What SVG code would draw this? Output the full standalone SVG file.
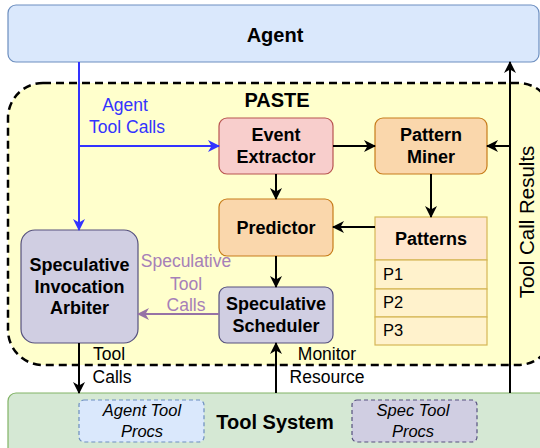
<svg xmlns="http://www.w3.org/2000/svg" width="540" height="448" viewBox="0 0 540 448">
<style>
text{font-family:"Liberation Sans",Arial,Helvetica,sans-serif;}
.t{font-size:20px;font-weight:bold;fill:#000;text-anchor:middle;}
.n{font-size:18px;font-weight:bold;fill:#000;text-anchor:middle;}
.l{font-size:17.5px;fill:#000;text-anchor:middle;}
.p{font-size:16.5px;fill:#000;}
.i{font-size:16.5px;font-style:italic;fill:#000;text-anchor:middle;}
.e{fill:none;stroke:#000;stroke-width:2;}
.blue{stroke:#3333ff;}
.purp{stroke:#9673a6;}
</style>
<defs>
<marker id="ak" markerUnits="userSpaceOnUse" viewBox="0 0 12 12" markerWidth="12" markerHeight="12" refX="11" refY="6" orient="auto"><path d="M0,0 L12,6 L0,12 L3.5,6 Z" fill="#000"/></marker>
<marker id="ab" markerUnits="userSpaceOnUse" viewBox="0 0 12 12" markerWidth="12" markerHeight="12" refX="11" refY="6" orient="auto"><path d="M0,0 L12,6 L0,12 L3.5,6 Z" fill="#3333ff"/></marker>
<marker id="ap" markerUnits="userSpaceOnUse" viewBox="0 0 12 12" markerWidth="12" markerHeight="12" refX="11" refY="6" orient="auto"><path d="M0,0 L12,6 L0,12 L3.5,6 Z" fill="#9673a6"/></marker>
</defs>

<g id="paste">
<rect x="8" y="83" width="545" height="282" rx="35" fill="#ffffcc" stroke="#000" stroke-width="2.5" stroke-dasharray="8 5"/>
<text class="t" x="277" y="107">PASTE</text>
</g>

<g id="agent">
<rect x="8" y="5" width="531" height="57" rx="8" fill="#dae8fc" stroke="#6c8ebf" stroke-width="1.2"/>
<text class="t" x="275" y="42">Agent</text>
</g>

<g id="tool-system">
<rect x="8" y="393" width="545" height="70" rx="8" fill="#d5e8d4" stroke="#82b366" stroke-width="1.2"/>
<text class="t" x="275" y="429">Tool System</text>
<g id="agent-tool-procs">
<rect x="79" y="400" width="125" height="42" rx="5" fill="#dae8fc" stroke="#6c8ebf" stroke-width="1.2" stroke-dasharray="4 3"/>
<text class="i" x="142" y="416">Agent Tool</text>
<text class="i" x="142" y="437">Procs</text>
</g>
<g id="spec-tool-procs">
<rect x="352" y="400" width="125" height="42" rx="5" fill="#d0cee2" stroke="#56517e" stroke-width="1.2" stroke-dasharray="4 3"/>
<text class="i" x="413" y="416">Spec Tool</text>
<text class="i" x="413" y="437">Procs</text>
</g>
</g>

<g id="event-extractor">
<rect x="219" y="118" width="114" height="56" rx="8" fill="#f8cecc" stroke="#b85450" stroke-width="1.2"/>
<text class="n" x="276" y="141">Event</text>
<text class="n" x="276" y="163">Extractor</text>
</g>

<g id="pattern-miner">
<rect x="375" y="118" width="112" height="56" rx="8" fill="#fad7ac" stroke="#c77c1a" stroke-width="1.2"/>
<text class="n" x="431" y="141">Pattern</text>
<text class="n" x="431" y="163">Miner</text>
</g>

<g id="predictor">
<rect x="219" y="199" width="114" height="57" rx="8" fill="#fad7ac" stroke="#c77c1a" stroke-width="1.2"/>
<text class="n" x="276" y="234">Predictor</text>
</g>

<g id="patterns">
<rect x="375" y="217" width="112" height="43" fill="#ffe6cc" stroke="#d6b656" stroke-width="1.2"/>
<rect x="375" y="260" width="112" height="29" fill="#fff2cc" stroke="#d6b656" stroke-width="1.2"/>
<rect x="375" y="289" width="112" height="28" fill="#fff2cc" stroke="#d6b656" stroke-width="1.2"/>
<rect x="375" y="317" width="112" height="28" fill="#fff2cc" stroke="#d6b656" stroke-width="1.2"/>
<text class="n" x="431" y="245">Patterns</text>
<text class="p" x="383" y="280">P1</text>
<text class="p" x="383" y="308">P2</text>
<text class="p" x="383" y="336">P3</text>
</g>

<g id="speculative-scheduler">
<rect x="219" y="287" width="114" height="56" rx="8" fill="#d0cee2" stroke="#56517e" stroke-width="1.2"/>
<text class="n" x="276" y="310">Speculative</text>
<text class="n" x="276" y="332">Scheduler</text>
</g>

<g id="speculative-invocation-arbiter">
<rect x="21" y="230" width="117" height="113" rx="14" fill="#d0cee2" stroke="#56517e" stroke-width="1.2"/>
<text class="n" x="79.5" y="271">Speculative</text>
<text class="n" x="79.5" y="293">Invocation</text>
<text class="n" x="79.5" y="314">Arbiter</text>
</g>

<g id="connectors">
<path class="e blue" d="M79,62 V230" marker-end="url(#ab)"/>
<path class="e blue" d="M79,146 H219" marker-end="url(#ab)"/>
<text class="l" x="125" y="111" style="fill:#3333ff">Agent</text>
<text class="l" x="127" y="133" style="fill:#3333ff">Tool Calls</text>
<path class="e" d="M333,146 H375" marker-end="url(#ak)"/>
<path class="e" d="M276,174 V199" marker-end="url(#ak)"/>
<path class="e" d="M431,174 V217" marker-end="url(#ak)"/>
<path class="e" d="M375,227 H333" marker-end="url(#ak)"/>
<path class="e" d="M276,256 V287" marker-end="url(#ak)"/>
<path class="e purp" d="M219,314 H138" marker-end="url(#ap)"/>
<text class="l" x="186" y="267" style="fill:#a680b8">Speculative</text>
<text class="l" x="186" y="290" style="fill:#a680b8">Tool</text>
<text class="l" x="186" y="311" style="fill:#a680b8">Calls</text>
<path class="e" d="M79,343 V393" marker-end="url(#ak)"/>
<text class="l" x="109" y="360">Tool</text>
<text class="l" x="112" y="383">Calls</text>
<path class="e" d="M276,393 V343" marker-end="url(#ak)"/>
<text class="l" x="327" y="360">Monitor</text>
<text class="l" x="327" y="383">Resource</text>
<path class="e" d="M510,393 V62" marker-end="url(#ak)"/>
<path class="e" d="M510,146 H487" marker-end="url(#ak)"/>
<text class="l" x="0" y="0" transform="translate(534,222) rotate(-90)" style="font-size:20.5px">Tool Call Results</text>
</g>
</svg>
